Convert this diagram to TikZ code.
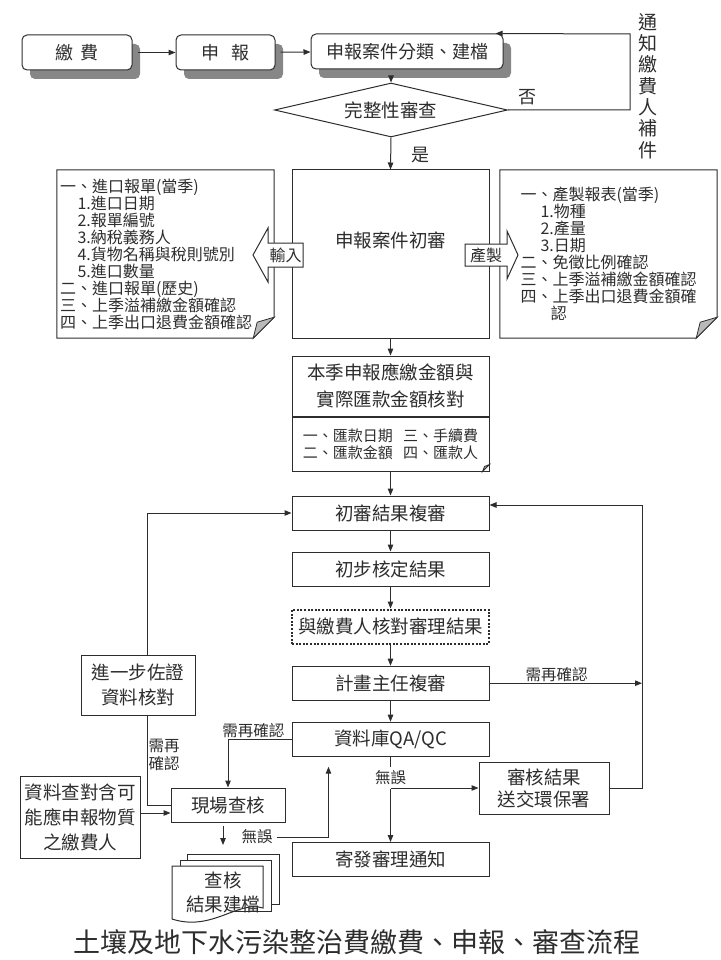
\documentclass[tikz,border=0pt]{standalone}
\usepackage{fontspec}
\setmainfont{Noto Sans CJK TC}
\usetikzlibrary{positioning,arrows.meta,shapes.geometric,shadows,calc}
\definecolor{ink}{RGB}{45,45,45}
\definecolor{shade}{RGB}{135,135,135}
\newcommand{\fsz}[2]{\fontsize{#1}{#2}\selectfont}
\tikzset{
  box/.style={draw=ink, line width=1pt, fill=white, align=center, minimum width=#1, minimum height=34pt, inner sep=2pt, font=\fsz{18.5}{24}},
  box/.default={197pt},
  topbox/.style={draw=ink, line width=1pt, rounded corners=5pt, fill=white, minimum width=#1, minimum height=35pt, font=\fsz{18}{22},
    drop shadow={shadow xshift=8pt, shadow yshift=-9pt, fill=shade, opacity=1}},
  topbox/.default={110pt},
  dotbox/.style={dash pattern=on 2pt off 1.6pt, line width=2.2pt},
  doc/.style={minimum width=217pt, minimum height=168pt, inner sep=3pt, align=left, font=\fsz{16}{17}},
  docline/.style={draw=ink, line width=1pt, fill=white},
  fold/.style={draw=ink, line width=0.8pt, fill=gray!55},
  arr/.style={-{Triangle[length=7pt,width=5.5pt]}, line width=1pt, draw=ink},
  wire/.style={line width=1pt, draw=ink},
  lbl/.style={font=\fsz{15.5}{18}, inner sep=1pt, align=center},
  blk/.style={draw=ink, line width=1pt, fill=white}
}

\begin{document}
\begin{tikzpicture}[x=1pt, y=-1pt, every node/.style={text=ink}]
  \useasboundingbox (0,0) rectangle (720,960);

  % top row
  \node[topbox=110pt] (pay) at (77,52.5) {繳\hspace{0.4em}費};
  \node[topbox=99pt] (rep) at (225.5,52.5) {申\hspace{0.7em}報};
  \node[topbox=192pt] (file) at (407,51.5) {申報案件分類、建檔};
  \draw[arr, shorten <=5pt] (pay) -- (rep);
  \draw[arr, shorten <=5pt] (rep) -- (file);

  \node[draw=ink, line width=1pt, diamond, aspect=4.3, minimum width=233pt, minimum height=54pt, inner sep=0pt, font=\fsz{18.5}{22}] (full) at (391,110) {完整性審查};
  \draw[arr, shorten <=9pt] (file.south -| full.north) -- (full.north);
  \coordinate (back) at (630,34);
  \draw[arr] (full.east) -| (back) -- ([xshift=-8pt]file.north east);
  \node[font=\fsz{18}{22}] (no) at (527,97) {否};
  \node[font=\fsz{19}{21.3}, align=center, inner sep=0pt] (notify) at (648,86) {通\\知\\繳\\費\\人\\補\\件};
  \node[font=\fsz{18}{22}] (yes) at (420,155) {是};

  % first review with input / output sheets
  \node[box, minimum height=168pt, text depth=28pt] (first) at (390.5,254) {申報案件初審};
  \draw[arr] (full.south) -- (first.north);

  \node[doc, text width=211pt] (inp) at (165.5,254) {一、進口報單(當季)\\
    \hspace*{1.1em}1.進口日期\\
    \hspace*{1.1em}2.報單編號\\
    \hspace*{1.1em}3.納稅義務人\\
    \hspace*{1.1em}4.貨物名稱與稅則號別\\
    \hspace*{1.1em}5.進口數量\\
    二、進口報單(歷史)\\
    三、上季溢補繳金額確認\\
    四、上季出口退費金額確認};
  \draw[wire] (inp.north west) -- (inp.north east) -- ($(inp.south east)+(0,-21)$) -- ($(inp.south east)+(-21,0)$) -- (inp.south west) -- cycle;
  \filldraw[fold] ($(inp.south east)+(0,-21)$) -- ($(inp.south east)+(-21,0)$) -- ($(inp.south east)+(-17,-16)$) -- cycle;

  \node[doc] (outp) at (608.5,254) {一、產製報表(當季)\\
    \hspace*{1.25em}1.物種\\
    \hspace*{1.25em}2.產量\\
    \hspace*{1.25em}3.日期\\
    二、免徵比例確認\\
    三、上季溢補繳金額確認\\
    四、上季出口退費金額確\\
    \hspace*{1.9em}認};
  \draw[wire] (outp.north west) -- (outp.north east) -- ($(outp.south east)+(0,-21)$) -- ($(outp.south east)+(-21,0)$) -- (outp.south west) -- cycle;
  \filldraw[fold] ($(outp.south east)+(0,-21)$) -- ($(outp.south east)+(-21,0)$) -- ($(outp.south east)+(-17,-16)$) -- cycle;

  % block arrows
  \draw[blk] (303,243) -- (268,243) -- (268,228) -- (253,255) -- (268,282) -- (268,267) -- (303,267) -- cycle;
  \node[font=\fsz{16}{18}, inner sep=0pt] (in) at (285.5,255) {輸入};
  \draw[blk] (465,244) -- (507,244) -- (507,231) -- (518,255) -- (507,279) -- (507,266) -- (465,266) -- cycle;
  \node[font=\fsz{16}{18}, inner sep=0pt] (out) at (486,255) {產製};

  % amount check
  \node[box, minimum height=60pt, font=\fsz{18.5}{27}, below=17pt of first] (amt) {本季申報應繳金額與\\實際匯款金額核對};
  \node[box, minimum height=54pt, font=\fsz{15}{17}, below=0pt of amt] (amtd) {一、匯款日期\hspace{0.7em}三、手續費\\二、匯款金額\hspace{0.7em}四、匯款人};
  \filldraw[fold] ($(amtd.south east)+(-7,0)$) -- ($(amtd.south east)+(0,-7)$) -- ($(amtd.south east)+(-5,-5)$) -- cycle;
  \draw[arr] (first) -- (amt);

  % review chain
  \node[box, below=24pt of amtd] (recheck) {初審結果複審};
  \node[box, below=21pt of recheck] (prelim) {初步核定結果};
  \node[box, dotbox, below=22pt of prelim] (verify) {與繳費人核對審理結果};
  \node[box, below=21pt of verify] (chief) {計畫主任複審};
  \node[box, below=21pt of chief] (qaqc) {資料庫QA/QC};
  \node[box] (notice) at (390.5,859.5) {寄發審理通知};
  \draw[arr] (amtd) -- (recheck);
  \draw[arr] (recheck) -- (prelim);
  \draw[arr] (prelim) -- (verify);
  \draw[arr] (verify) -- (chief);
  \draw[arr] (chief) -- (qaqc);
  \draw[arr] (qaqc) -- node[lbl, fill=white, inner ysep=4pt, pos=0.25] (ok1) {無誤} (notice);

  % result to EPA and loop back
  \node[box=130pt, minimum height=52pt, font=\fsz{18.5}{22}] (send) at (544,788) {審核結果\\送交環保署};
  \draw[arr] (qaqc.south |- send.west) -- (send.west);
  \coordinate (rloop) at (642,505);
  \draw[arr] (send.east) -| (rloop) -- (recheck.east |- rloop);
  \draw[arr] (chief.east) -- node[lbl, above, pos=0.44] {需再確認} (chief.east -| rloop);

  % site inspection loop
  \node[box=114pt, minimum height=60pt, font=\fsz{18.5}{25}] (more) at (138,685) {進一步佐證\\資料核對};
  \node[box=114pt] (site) at (228,805) {現場查核};
  \node[box=120pt, minimum height=82pt, font=\fsz{18.5}{25}] (data) at (80,817) {資料查對含可\\能應申報物質\\之繳費人};
  \draw[arr] ([xshift=9pt]more.north) |- (recheck.west);
  \draw[wire] ([xshift=9pt]more.south) |- node[lbl, right, pos=0.22] {需再\\確認} (site.west);
  \draw[arr] ([yshift=4pt]data.east) -- ([yshift=4pt]data.east -| site.west);
  \draw[arr] (qaqc.west) -| node[lbl, above, pos=0.3] {需再確認} (site.north);
  \node[lbl] (ok2) at (257,837) {無誤};
  \coordinate (qaup) at ($(qaqc.south)+(-62,10)$);
  \draw[arr, shorten <=3pt] (ok2.east) -| (qaup);

  % stacked result files
  \filldraw[docline] (187,854) rectangle (279,904);
  \filldraw[docline] (180,860) rectangle (271,911);
  \filldraw[docline] (172,866) -- (263,866) -- (263,908) .. controls (238,900) and (212,932) .. (172,919) -- cycle;
  \node[font=\fsz{18.5}{24}, align=center] (stack) at (223,892) {查核\\結果建檔};
  \coordinate (stacktop) at (223,854);
  \draw[arr, shorten <=3pt, shorten >=9pt] (site.south -| stacktop) -- (stacktop);

  \node[font=\fsz{27}{30}] (title) at (357,942) {土壤及地下水污染整治費繳費、申報、審查流程};
\end{tikzpicture}
\end{document}
